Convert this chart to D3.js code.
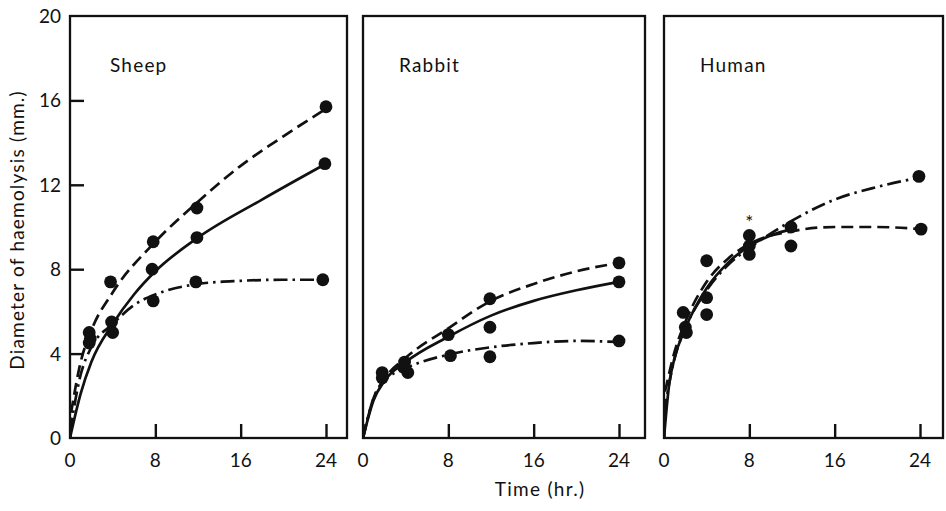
<!DOCTYPE html>
<html>
<head>
<meta charset="utf-8">
<script src="https://cdn.jsdelivr.net/npm/d3@7"></script>
<style>
  body { margin: 0; background: #fff; }
  text { font-family: Lato, "Open Sans", sans-serif; fill: #111; }
</style>
</head>
<body>
<div id="vis"></div>
<script>
// ---- data ----
var panelNames = ['Sheep', 'Rabbit', 'Human'];
var xTicks = [0, 8, 16, 24];
var yTicks = [0, 4, 8, 12, 16, 20];

// observed points [hr, mm]
var sheepDashedPts = [[1.8, 5.0], [3.8, 7.4], [7.8, 9.3], [11.9, 10.9], [24, 15.7]];
var sheepSolidPts = [[1.8, 4.5], [3.9, 5.5], [7.7, 8.0], [11.9, 9.5], [23.9, 13.0]];
var sheepDotDashPts = [[1.9, 4.7], [4.0, 5.0], [7.8, 6.5], [11.8, 7.4], [23.7, 7.5]];

var rabbitPts = [[1.8, 3.1], [1.8, 2.85], [3.9, 3.6], [3.8, 3.35], [4.2, 3.1],
                 [8.0, 4.9], [8.2, 3.9], [11.9, 6.6], [11.9, 5.25], [11.9, 3.85],
                 [24, 8.3], [24, 7.4], [24, 4.6]];

var humanPts = [[1.8, 5.95], [2.0, 5.25], [2.1, 5.0], [4.0, 8.4], [4.0, 6.65], [4.0, 5.85],
                [8.0, 9.6], [8.0, 9.1], [8.0, 8.7], [11.9, 10.0], [11.9, 9.1],
                [23.9, 12.4], [24.1, 9.9]];

// fitted curves
var sheepDashed = [[0.1, 1.2], [1, 3.6], [2, 5.1], [4, 6.9], [8, 9.3], [12, 11.2], [16, 12.9], [20, 14.3], [24, 15.6]];
var sheepSolid = [[0, 0], [1, 2.1], [2, 3.6], [4, 5.4], [6, 6.8], [8, 7.9], [12, 9.5], [18, 11.3], [24, 13.0]];
var sheepDotDash = [[0, 0.3], [1, 3.0], [2, 4.3], [4, 5.4], [6, 6.3], [8, 6.8], [12, 7.3], [16, 7.45], [20, 7.5], [24, 7.5]];

var rabbitDashed = [[0, 0], [1, 1.9], [2, 2.8], [4, 3.8], [8, 5.2], [12, 6.5], [16, 7.3], [20, 7.9], [24, 8.3]];
var rabbitSolid = [[0, 0], [1, 1.8], [2, 2.7], [4, 3.6], [8, 4.8], [12, 5.8], [16, 6.5], [20, 7.0], [24, 7.4]];
var rabbitDotDash = [[0, 0], [1, 1.9], [2, 2.7], [4, 3.3], [8, 3.95], [12, 4.3], [16, 4.5], [20, 4.6], [24, 4.55]];

var humanDashed = [[0.1, 2.2], [1, 4.1], [2, 5.5], [4, 7.4], [6, 8.5], [8, 9.2], [12, 9.8], [16, 10.0], [20, 10.0], [24, 9.9]];
var humanSolid = [[0, 0], [0.5, 2.6], [1, 3.8], [2, 5.2], [4, 7.1], [6, 8.3], [8, 9.1], [10, 9.6], [12, 9.9]];
var humanDotDash = [[0, 1.2], [1, 3.8], [2, 5.2], [4, 7.0], [6, 8.2], [8, 9.0], [12, 10.3], [16, 11.3], [20, 11.9], [24, 12.35]];

var panels = [
    { left: 70, right: 347, pts: sheepDashedPts.concat(sheepSolidPts, sheepDotDashPts),
      curves: [sheepDashed, sheepSolid, sheepDotDash] },
    { left: 363, right: 645, pts: rabbitPts,
      curves: [rabbitDashed, rabbitSolid, rabbitDotDash] },
    { left: 664, right: 943, pts: humanPts,
      curves: [humanDashed, humanSolid, humanDotDash], star: [8, 9.6] }
];
var dashes = ['12,6', null, '14,5,2.5,5'];

var topY = 16, bottomY = 438;

var svg = d3.select('#vis')
    .append('svg')
    .attr('width', 946)
    .attr('height', 511);

var yScale = d3.scaleLinear()
    .domain([0, 20])
    .range([bottomY, topY]);

panels.forEach(function (p, i) {
    var xScale = d3.scaleLinear()
        .domain([0, 24])
        .range([p.left, p.left + 256]);

    var g = svg.append('g');

    g.append('clipPath').attr('id', 'clip' + i)
        .append('rect')
        .attr('x', p.left).attr('y', topY)
        .attr('width', p.right - p.left).attr('height', bottomY - topY);

    var line = d3.line()
        .x(function (d) { return xScale(d[0]); })
        .y(function (d) { return yScale(d[1]); })
        .curve(d3.curveMonotoneX);

    p.curves.forEach(function (c, k) {
        g.append('path')
            .attr('d', line(c))
            .attr('fill', 'none')
            .attr('stroke', '#111')
            .attr('stroke-width', 2.7)
            .attr('stroke-dasharray', dashes[k])
            .attr('clip-path', 'url(#clip' + i + ')');
    });

    g.selectAll('circle').data(p.pts)
        .enter()
        .append('circle')
        .attr('cx', function (d) { return xScale(d[0]); })
        .attr('cy', function (d) { return yScale(d[1]); })
        .attr('r', 6.4)
        .attr('fill', '#111');

    // frame
    g.append('rect')
        .attr('x', p.left).attr('y', topY)
        .attr('width', p.right - p.left).attr('height', bottomY - topY)
        .attr('fill', 'none')
        .attr('stroke', '#111')
        .attr('stroke-width', 2.3);

    // x ticks (inward) + labels
    var xAxis = d3.axisTop(xScale)
        .tickValues(xTicks)
        .tickSize(14)
        .tickFormat('');
    g.append('g')
        .attr('transform', 'translate(0,' + bottomY + ')')
        .call(xAxis)
        .call(function (a) { a.select('.domain').remove(); })
        .selectAll('line').attr('stroke', '#111').attr('stroke-width', 2.4);

    g.selectAll('.xlab').data(xTicks)
        .enter()
        .append('text')
        .attr('class', 'xlab')
        .attr('x', function (d) { return xScale(d); })
        .attr('y', 467)
        .attr('text-anchor', 'middle')
        .style('font-size', '19px')
        .text(function (d) { return d; });

    g.append('text')
        .attr('x', p.left + (i == 0 ? 40 : 36))
        .attr('y', 72)
        .style('font-size', '19px')
        .style('letter-spacing', '1.2px')
        .text(panelNames[i]);

    if (p.star) {
        g.append('text')
            .attr('x', xScale(p.star[0]))
            .attr('y', yScale(p.star[1]) - 6)
            .attr('text-anchor', 'middle')
            .style('font-size', '19px')
            .text('*');
    }

    if (i == 0) {
        var yAxis = d3.axisRight(yScale)
            .tickValues(yTicks.slice(1, 5))
            .tickSize(14)
            .tickFormat('');
        g.append('g')
            .attr('transform', 'translate(' + p.left + ',0)')
            .call(yAxis)
            .call(function (a) { a.select('.domain').remove(); })
            .selectAll('line').attr('stroke', '#111').attr('stroke-width', 2.4);

        g.selectAll('.ylab').data(yTicks)
            .enter()
            .append('text')
            .attr('class', 'ylab')
            .attr('x', 61)
            .attr('y', function (d) { return yScale(d) + 7; })
            .attr('text-anchor', 'end')
            .style('font-size', '19px')
            .text(function (d) { return d; });
    }
});

svg.append('text')
    .attr('transform', 'translate(24,' + ((topY + bottomY) / 2 + 3) + ') rotate(-90)')
    .attr('text-anchor', 'middle')
    .style('font-size', '19px')
    .style('letter-spacing', '1.2px')
    .text('Diameter of haemolysis (mm.)');

svg.append('text')
    .attr('x', 540)
    .attr('y', 496)
    .attr('text-anchor', 'middle')
    .style('font-size', '19px')
    .style('letter-spacing', '1.3px')
    .text('Time (hr.)');
</script>
</body>
</html>
